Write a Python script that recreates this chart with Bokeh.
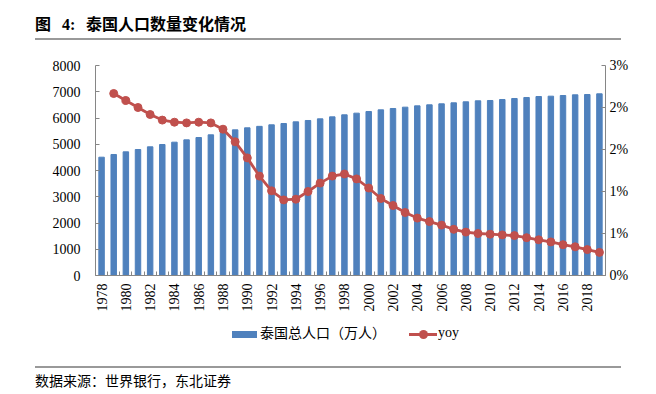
from math import pi
from bokeh.plotting import figure
from bokeh.layouts import column
from bokeh.models import (Range1d, LinearAxis, FixedTicker, NumeralTickFormatter,
                          ColumnDataSource, Div)
from bokeh.embed import file_html
from bokeh.resources import INLINE

# ---- data ----
years = list(range(1978, 2020))
population = [4507, 4610, 4711, 4800, 4902, 4990, 5079, 5168, 5257, 5359, 5460,
              5549, 5626, 5682, 5740, 5790, 5854, 5905, 5968, 6044, 6121, 6184,
              6248, 6311, 6362, 6413, 6463, 6502, 6540, 6578, 6617, 6655, 6667,
              6705, 6743, 6781, 6819, 6831, 6857, 6883, 6895, 6921]
yoy_years = list(range(1979, 2020))
yoy_pct = [2.60, 2.50, 2.40, 2.30, 2.22, 2.19, 2.18, 2.19, 2.18, 2.09, 1.91, 1.68,
           1.42, 1.21, 1.08, 1.09, 1.20, 1.32, 1.42, 1.45, 1.38, 1.25, 1.10, 1.00,
           0.90, 0.82, 0.77, 0.72, 0.66, 0.62, 0.60, 0.59, 0.58, 0.57, 0.54, 0.51,
           0.48, 0.44, 0.41, 0.37, 0.33]
left_ticks = [0, 1000, 2000, 3000, 4000, 5000, 6000, 7000, 8000]
right_ticks_pct = [0, 0.6, 1.2, 1.8, 2.4, 3.0]
label_years = list(range(1978, 2020, 2))

title_fig = "图"
title_num = "4:"
title_text = "泰国人口数量变化情况"
source_text = "数据来源：世界银行，东北证券"
bar_name = "泰国总人口（万人）"
line_name = "yoy"

BLUE = "#4F81BD"
RED = "#C0504D"
AXIS = "#868686"
SERIF = "Liberation Serif"
CSSFONT = "'Liberation Serif', 'Noto Sans CJK SC', serif"

PAGE_W = 656
TITLE_H = 42
FIG_H = 278
LEG_H = 28
SRC_H = 46

title_div = Div(width=PAGE_W, height=TITLE_H, margin=0, text=(
    f'<div style="position:relative;width:{PAGE_W}px;height:{TITLE_H}px;'
    f'font-family:{CSSFONT};font-weight:bold;font-size:16px;line-height:22px;color:#000;">'
    f'<span style="position:absolute;left:35px;top:14px;">{title_fig}</span>'
    f'<span style="position:absolute;left:62px;top:14px;">{title_num}</span>'
    f'<span style="position:absolute;left:86px;top:14px;">{title_text}</span>'
    f'<div style="position:absolute;left:35px;top:38px;width:586px;height:2px;'
    f'background:#999999;"></div></div>'))

legend_div = Div(width=PAGE_W, height=LEG_H, margin=0, text=(
    f'<div style="position:relative;width:{PAGE_W}px;height:{LEG_H}px;'
    f'font-family:{CSSFONT};font-size:14px;line-height:20px;color:#000;">'
    f'<div style="position:absolute;left:232px;top:11px;width:25px;height:7px;'
    f'background:{BLUE};"></div>'
    f'<span style="position:absolute;left:260px;top:4px;">{bar_name}</span>'
    f'<div style="position:absolute;left:409px;top:13px;width:28px;height:3px;'
    f'background:{RED};"></div>'
    f'<div style="position:absolute;left:419px;top:10px;width:9px;height:9px;'
    f'border-radius:50%;background:{RED};"></div>'
    f'<span style="position:absolute;left:438px;top:3px;">{line_name}</span></div>'))

src_div = Div(width=PAGE_W, height=SRC_H, margin=0, text=(
    f'<div style="position:relative;width:{PAGE_W}px;height:{SRC_H}px;'
    f'font-family:{CSSFONT};font-size:14px;line-height:20px;color:#000;">'
    f'<div style="position:absolute;left:35px;top:18px;width:586px;height:2px;'
    f'background:#999999;"></div>'
    f'<span style="position:absolute;left:35px;top:24px;">{source_text}</span></div>'))

p = figure(width=PAGE_W, height=FIG_H, output_backend="svg", toolbar_location=None,
           x_range=Range1d(years[0] - 0.5, years[-1] + 0.5),
           y_range=Range1d(0, 8000),
           min_border_left=95, min_border_right=51, min_border_top=23,
           min_border_bottom=45, margin=0)
p.outline_line_color = None
p.grid.grid_line_color = None
p.xaxis.visible = False
p.yaxis.visible = False
p.extra_y_ranges = {"yoy": Range1d(0, 0.03)}

# bottom axis
xa = LinearAxis(ticker=FixedTicker(ticks=label_years,
                                   minor_ticks=[y - 0.5 for y in years] + [years[-1] + 0.5]))
xa.major_label_orientation = pi / 2
xa.major_tick_in = 0
xa.major_tick_out = 0
xa.minor_tick_in = 4
xa.minor_tick_out = 0
xa.minor_tick_line_color = AXIS
xa.axis_line_color = AXIS
xa.major_label_standoff = 8
xa.major_label_text_font = SERIF
xa.major_label_text_font_size = "14px"
xa.major_label_text_color = "#000000"
p.add_layout(xa, "below")

# left axis
ya = LinearAxis(ticker=FixedTicker(ticks=left_ticks, minor_ticks=[]))
ya.major_tick_in = 4
ya.major_tick_out = 0
ya.major_tick_line_color = AXIS
ya.axis_line_color = AXIS
ya.major_label_standoff = 15
ya.major_label_text_font = SERIF
ya.major_label_text_font_size = "14px"
ya.major_label_text_color = "#000000"
p.add_layout(ya, "left")

# right axis
ra = LinearAxis(y_range_name="yoy",
                ticker=FixedTicker(ticks=[t / 100 for t in right_ticks_pct], minor_ticks=[]),
                formatter=NumeralTickFormatter(format="0%"))
ra.major_tick_in = 4
ra.major_tick_out = 0
ra.major_tick_line_color = AXIS
ra.axis_line_color = AXIS
ra.major_label_standoff = 4
ra.major_label_text_font = SERIF
ra.major_label_text_font_size = "14px"
ra.major_label_text_color = "#000000"
p.add_layout(ra, "right")

p.vbar(x=years, top=population, width=0.45, color=BLUE)
src = ColumnDataSource(dict(x=yoy_years, y=[v / 100 for v in yoy_pct]))
p.line("x", "y", source=src, y_range_name="yoy", color=RED, line_width=2.8)
p.scatter("x", "y", source=src, y_range_name="yoy", color=RED, size=8)

layout = column(title_div, p, legend_div, src_div, spacing=0, margin=0)
open("out.html", "w").write(file_html(layout, INLINE))
